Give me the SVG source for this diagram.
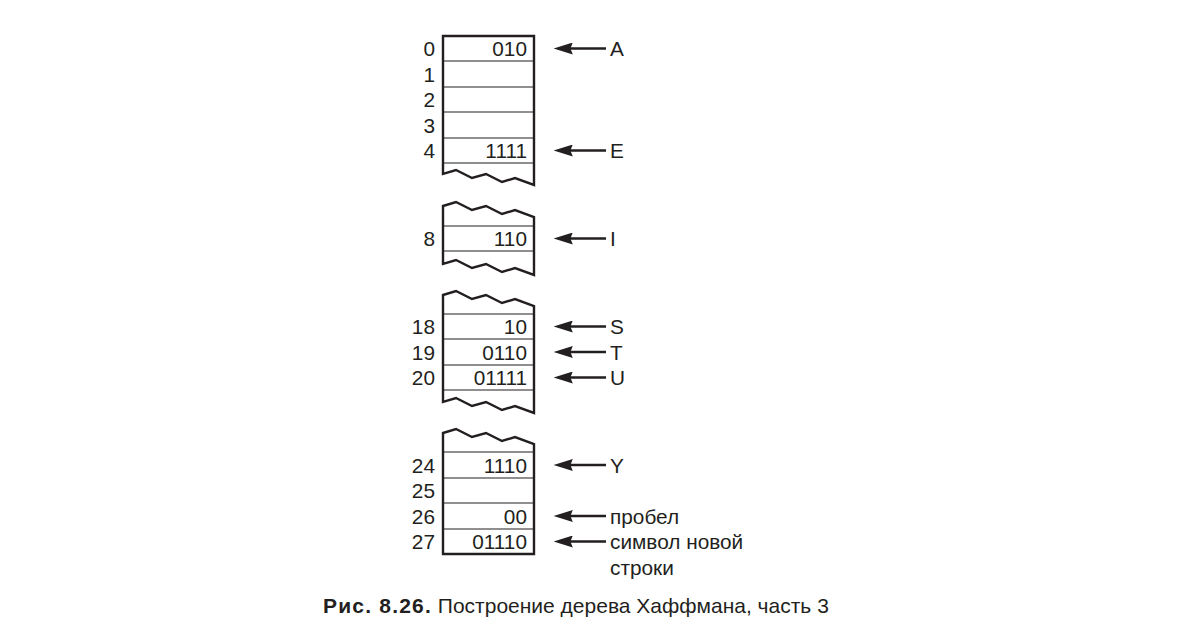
<svg xmlns="http://www.w3.org/2000/svg" width="1192" height="643" viewBox="0 0 1192 643">
<style>
.blk{fill:#fff;stroke:#231f20;stroke-width:2.4;stroke-linejoin:miter}
.row{stroke:#231f20;stroke-width:1.2}
.t{font-family:"Liberation Sans",Arial,sans-serif;font-size:20.8px;fill:#231f20}
.idx{text-anchor:end}
.val{text-anchor:end}
.arr{stroke:#231f20;stroke-width:2.4;marker-end:url(#ah)}
.cap{font-family:"Liberation Sans",Arial,sans-serif;font-size:21px;fill:#231f20}
</style>
<defs>
<marker id="ah" markerUnits="userSpaceOnUse" markerWidth="20" markerHeight="12" viewBox="0 0 16 10" refX="9" refY="5" orient="auto">
<path d="M0,0 L16,5 L0,10 L2,5 Z" fill="#231f20"/>
</marker>
</defs>
<rect width="1192" height="643" fill="#fff"/>

<g id="block1">
<path class="blk" d="M443,36 H534 V185 l-19,-7 l-13,4 l-16,-8 l-14,4 l-16,-8 l-13,4 Z"/>
<line class="row" x1="443" y1="61" x2="534" y2="61"/>
<line class="row" x1="443" y1="87" x2="534" y2="87"/>
<line class="row" x1="443" y1="112" x2="534" y2="112"/>
<line class="row" x1="443" y1="138" x2="534" y2="138"/>
<line class="row" x1="443" y1="163" x2="534" y2="163"/>
<text class="t idx" x="435" y="56">0</text>
<text class="t idx" x="435" y="81.5">1</text>
<text class="t idx" x="435" y="107">2</text>
<text class="t idx" x="435" y="132.5">3</text>
<text class="t idx" x="435" y="158">4</text>
<text class="t val" x="527" y="56">010</text>
<text class="t val" x="527" y="158">1111</text>
</g>

<g id="block2">
<path class="blk" d="M443,206 l13,-4 l16,8 l14,-4 l16,8 l13,-4 l19,7 V275 l-19,-7 l-13,4 l-16,-8 l-14,4 l-16,-8 l-13,4 Z"/>
<line class="row" x1="443" y1="226" x2="534" y2="226"/>
<line class="row" x1="443" y1="251" x2="534" y2="251"/>
<text class="t idx" x="435" y="246">8</text>
<text class="t val" x="527" y="246">110</text>
</g>

<g id="block3">
<path class="blk" d="M443,295 l13,-4 l16,8 l14,-4 l16,8 l13,-4 l19,7 V413 l-19,-7 l-13,4 l-16,-8 l-14,4 l-16,-8 l-13,4 Z"/>
<line class="row" x1="443" y1="314" x2="534" y2="314"/>
<line class="row" x1="443" y1="339" x2="534" y2="339"/>
<line class="row" x1="443" y1="365" x2="534" y2="365"/>
<line class="row" x1="443" y1="390" x2="534" y2="390"/>
<text class="t idx" x="435" y="334">18</text>
<text class="t idx" x="435" y="359.5">19</text>
<text class="t idx" x="435" y="385">20</text>
<text class="t val" x="527" y="334">10</text>
<text class="t val" x="527" y="359.5">0110</text>
<text class="t val" x="527" y="385">01111</text>
</g>

<g id="block4">
<path class="blk" d="M443,433 l13,-4 l16,8 l14,-4 l16,8 l13,-4 l19,7 V554 H443 Z"/>
<line class="row" x1="443" y1="452" x2="534" y2="452"/>
<line class="row" x1="443" y1="478" x2="534" y2="478"/>
<line class="row" x1="443" y1="503" x2="534" y2="503"/>
<line class="row" x1="443" y1="529" x2="534" y2="529"/>
<text class="t idx" x="435" y="472.5">24</text>
<text class="t idx" x="435" y="498">25</text>
<text class="t idx" x="435" y="523.5">26</text>
<text class="t idx" x="435" y="549">27</text>
<text class="t val" x="527" y="472.5">1110</text>
<text class="t val" x="527" y="523.5">00</text>
<text class="t val" x="527" y="549">01110</text>
</g>

<g id="connectors">
<line class="arr" x1="606" y1="48.5" x2="562" y2="48.5"/>
<line class="arr" x1="606" y1="150.5" x2="562" y2="150.5"/>
<line class="arr" x1="606" y1="238.5" x2="562" y2="238.5"/>
<line class="arr" x1="606" y1="326.5" x2="562" y2="326.5"/>
<line class="arr" x1="606" y1="352" x2="562" y2="352"/>
<line class="arr" x1="606" y1="377.5" x2="562" y2="377.5"/>
<line class="arr" x1="606" y1="465" x2="562" y2="465"/>
<line class="arr" x1="606" y1="516" x2="562" y2="516"/>
<line class="arr" x1="606" y1="541.5" x2="562" y2="541.5"/>
</g>

<g id="labels">
<text class="t" x="610" y="56">A</text>
<text class="t" x="610" y="158">E</text>
<text class="t" x="610" y="246">I</text>
<text class="t" x="610" y="334">S</text>
<text class="t" x="610" y="359.5">T</text>
<text class="t" x="610" y="385">U</text>
<text class="t" x="610" y="472.5">Y</text>
<text class="t" x="610" y="523.5">пробел</text>
<text class="t" x="610" y="549">символ новой</text>
<text class="t" x="610" y="575">строки</text>
</g>

<g id="caption">
<text class="cap" x="323" y="613"><tspan font-weight="bold" letter-spacing="1.2">Рис. 8.26.</tspan> Построение дерева Хаффмана, часть 3</text>
</g>
</svg>
